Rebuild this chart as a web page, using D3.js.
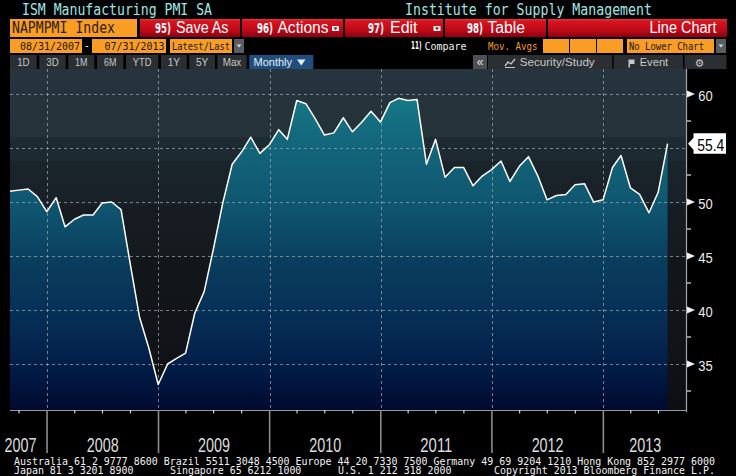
<!DOCTYPE html>
<html><head><meta charset="utf-8">
<script src="https://cdn.jsdelivr.net/npm/d3@7"></script>
<style>html,body{margin:0;padding:0;background:#000;overflow:hidden}svg{display:block}</style>
</head><body>
<svg id="c" width="736" height="476"></svg>
<script>
// ---------------- DATA ----------------
const months = [
 "2007-08","2007-09","2007-10","2007-11","2007-12",
 "2008-01","2008-02","2008-03","2008-04","2008-05","2008-06","2008-07","2008-08","2008-09","2008-10","2008-11","2008-12",
 "2009-01","2009-02","2009-03","2009-04","2009-05","2009-06","2009-07","2009-08","2009-09","2009-10","2009-11","2009-12",
 "2010-01","2010-02","2010-03","2010-04","2010-05","2010-06","2010-07","2010-08","2010-09","2010-10","2010-11","2010-12",
 "2011-01","2011-02","2011-03","2011-04","2011-05","2011-06","2011-07","2011-08","2011-09","2011-10","2011-11","2011-12",
 "2012-01","2012-02","2012-03","2012-04","2012-05","2012-06","2012-07","2012-08","2012-09","2012-10","2012-11","2012-12",
 "2013-01","2013-02","2013-03","2013-04","2013-05","2013-06","2013-07"];
const pmi = [
 51.0,51.1,51.2,50.5,49.1,
 50.4,47.7,48.4,48.8,48.8,49.9,50.0,49.3,44.3,39.3,36.5,33.1,
 35.0,35.5,36.0,39.7,41.7,45.6,49.9,53.5,54.6,56.0,54.5,55.3,
 56.7,55.8,59.4,59.1,57.7,56.2,56.4,57.8,56.5,57.4,58.4,57.4,
 59.2,59.6,59.4,59.5,53.5,55.8,52.3,53.2,53.2,51.5,52.4,53.0,
 53.8,51.9,53.3,54.2,52.4,50.2,50.6,50.7,51.6,51.7,50.0,50.2,
 53.2,54.3,51.3,50.7,49.0,50.9,55.4];
const yTicks = [35,40,45,50,55,60];
const yMinorTicks = [32.5,37.5,42.5,47.5,52.5,57.5];
const yearLabels = ["2007","2008","2009","2010","2011","2012","2013"];
const title = "ISM Manufacturing PMI SA";
const source = "Institute for Supply Management";
const ticker = "NAPMPMI Index";
const startDate = "08/31/2007", endDate = "07/31/2013";
const rangeButtons = ["1D","3D","1M","6M","YTD","1Y","5Y","Max"];
const footer1 = "Australia 61 2 9777 8600 Brazil 5511 3048 4500 Europe 44 20 7330 7500 Germany 49 69 9204 1210 Hong Kong 852 2977 6000";
const footer2 = ["Japan 81 3 3201 8900","Singapore 65 6212 1000","U.S. 1 212 318 2000","Copyright 2013 Bloomberg Finance L.P."];

// ---------------- SETUP ----------------
const svg = d3.select("#c");
const defs = svg.append("defs");
const SANS = "'Liberation Sans', Arial, sans-serif";
const MONO = "'DejaVu Sans Mono', monospace";
const COND = "'DejaVu Sans Condensed', 'DejaVu Sans', sans-serif";

function txt(g, x, y, s, o = {}) {
  const t = g.append("text").attr("x", x).attr("y", y).text(s)
    .attr("font-family", o.font || SANS)
    .attr("font-size", o.size || 12)
    .attr("fill", o.fill || "#fff")
    .attr("text-anchor", o.anchor || "start");
  if (o.len) t.attr("textLength", o.len).attr("lengthAdjust", "spacingAndGlyphs");
  if (o.weight) t.attr("font-weight", o.weight);
  return t;
}
function rect(g, x, y, w, h, fill) {
  return g.append("rect").attr("x", x).attr("y", y).attr("width", w).attr("height", h).attr("fill", fill);
}
function vgrad(id, y1, y2, stops) {
  const lg = defs.append("linearGradient").attr("id", id)
    .attr("gradientUnits", "userSpaceOnUse").attr("x1", 0).attr("x2", 0).attr("y1", y1).attr("y2", y2);
  stops.forEach(s => lg.append("stop").attr("offset", s[0]).attr("stop-color", s[1]));
}

const P = { l: 10, r: 687, t: 69, b: 410 };
const parseM = d3.timeParse("%Y-%m");
const dates = months.map(m => d3.timeDay.offset(d3.timeMonth.offset(parseM(m), 1), -1));
const data = dates.map((d, i) => ({ date: d, v: pmi[i] }));

const x = d3.scaleTime().domain([dates[0], dates[dates.length - 1]]).range([9.6, 667.6]);
const y = d3.scaleLinear().domain([35, 60]).range([364, 94]);

// gradients
vgrad("bg", P.t, P.b, [
  [0, "#26353d"], [0.2, "#24323a"], [0.2, "#1f2b33"], [0.27, "#1d2930"], [0.27, "#1a242b"],
  [0.4, "#182028"], [0.4, "#161c22"], [0.55, "#141a1d"], [0.55, "#131719"], [0.7, "#121419"],
  [0.82, "#111318"], [0.92, "#0e1015"], [1, "#0c0e12"]]);
vgrad("area", P.t, P.b, [
  [0, "#197f90"], [0.1, "#157686"], [0.2, "#13687c"], [0.4, "#0f5670"], [0.52, "#0b4563"],
  [0.55, "#0a3f5e"], [0.7, "#073158"], [0.8, "#05264f"], [0.88, "#021c46"], [0.94, "#01123b"], [1, "#000a30"]]);
vgrad("red", 19, 37, [[0, "#e8383c"], [0.12, "#d8141f"], [0.6, "#bf0a18"], [1, "#8c0010"]]);

defs.append("clipPath").attr("id", "plotclip").append("rect")
  .attr("x", P.l).attr("y", P.t).attr("width", P.r - P.l).attr("height", P.b - P.t);
defs.append("clipPath").attr("id", "yearclip").append("rect")
  .attr("x", 3.5).attr("y", P.b).attr("width", P.r - 3.5).attr("height", 60);

rect(svg, 0, 0, 736, 476, "#000");

// ---------------- HEADER ----------------
const H = svg.append("g");
txt(H, 22, 15, title, { font: MONO, size: 15, fill: "#9ee6e3", len: 190 });
txt(H, 405, 15, source, { font: MONO, size: 15, fill: "#9ee6e3", len: 247 });

// row 2
rect(H, 10, 19, 127, 18, "#f99d25");
txt(H, 12, 33.3, ticker, { font: MONO, size: 15, fill: "#2b1c06", len: 103 });
const redBtns = [
  { x: 140, w: 100, num: "95)", nx: 155, lab: "Save As", lx: 176, ll: 52.5, dd: false },
  { x: 242, w: 101, num: "96)", nx: 257, lab: "Actions", lx: 277.5, ll: 51, dd: true, ddx: 332 },
  { x: 345, w: 98, num: "97)", nx: 368, lab: "Edit", lx: 390, ll: 27.5, dd: true, ddx: 433.5 },
  { x: 445, w: 101, num: "98)", nx: 467, lab: "Table", lx: 487.5, ll: 37.5, dd: false }];
redBtns.forEach(b => {
  rect(H, b.x, 19, b.w, 18, "url(#red)");
  txt(H, b.nx, 33, b.num, { font: COND, size: 14, fill: "#fff", weight: "bold", len: 16 });
  txt(H, b.lx, 33.3, b.lab, { font: SANS, size: 16, fill: "#fff", len: b.ll });
  if (b.dd) {
    rect(H, b.ddx, 26, 7, 5, "#f2f2f2");
    H.append("path").attr("d", `M${b.ddx + 1.5},27.5h4l-2,2.5z`).attr("fill", "#7a0010");
  }
});
rect(H, 548, 19, 179, 18, "url(#red)");
txt(H, 716.5, 33.3, "Line Chart", { font: SANS, size: 16, fill: "#fff", anchor: "end", len: 67 });

// row 3
rect(H, 10, 39, 72, 14, "#f99d25");
txt(H, 20, 49.5, startDate, { font: MONO, size: 11, fill: "#241704", len: 60 });
txt(H, 86.8, 48.5, "-", { font: SANS, size: 10, fill: "#fff", anchor: "middle" });
rect(H, 92, 39, 74, 14, "#f99d25");
txt(H, 104.5, 49.5, endDate, { font: MONO, size: 11, fill: "#241704", len: 60 });
rect(H, 170, 39, 62, 14, "#f99d25");
txt(H, 172, 49.5, "Latest/Last", { font: MONO, size: 11, fill: "#241704", len: 58 });
rect(H, 234, 39, 10, 14, "#5a5d60");
H.append("path").attr("d", "M236.5,44.5h5l-2.5,3z").attr("fill", "#d8d8d8");

txt(H, 411, 49.3, "11)", { font: COND, size: 10, fill: "#fff", weight: "bold", len: 10.5 });
txt(H, 424.5, 49.5, "Compare", { font: MONO, size: 11, fill: "#f0f0f0", len: 42 });
txt(H, 488, 49.5, "Mov. Avgs", { font: MONO, size: 11, fill: "#f59a23", len: 49.5 });
[543, 570, 597].forEach(bx => rect(H, bx, 39, 26, 14, "#f99d25"));
rect(H, 627, 39, 87, 14, "#f99d25");
txt(H, 629, 49.5, "No Lower Chart", { font: MONO, size: 11, fill: "#241704", len: 75 });
rect(H, 716, 39, 10, 14, "#5a5d60");
H.append("path").attr("d", "M718.5,44.5h5l-2.5,3z").attr("fill", "#d8d8d8");

// row 4
const rb = [[10, 26.7], [39.3, 26.4], [68.3, 26], [97, 26.3], [126, 32.3], [161, 25.7], [189.3, 25.7], [217.3, 29.4]];
rangeButtons.forEach((s, i) => {
  const [bx, bw] = rb[i];
  rect(H, bx, 55, bw, 14, "#2b2f33");
  txt(H, bx + bw / 2, 66, s, { font: SANS, size: 11.5, fill: "#c4c8cc", anchor: "middle", len: s.length * 6.2 });
});
rect(H, 249.3, 55, 64, 14, "#1f4f7e");
txt(H, 253.5, 66, "Monthly", { font: SANS, size: 11.5, fill: "#e8eef4", len: 38.5 });
H.append("path").attr("d", "M297,59.5h8.5l-4.25,6z").attr("fill", "#e8eef4");

rect(H, 473, 55, 14, 14, "#4c5054");
txt(H, 480, 66, "«", { font: SANS, size: 12, fill: "#e0e0e0", anchor: "middle" });
rect(H, 488, 55, 124.3, 14, "#2b2f33");
H.append("path").attr("d", "M505,66l3,-4l3,2l4,-5").attr("fill", "none").attr("stroke", "#c4c8cc").attr("stroke-width", 1.3);
H.append("path").attr("d", "M505,67.5h10").attr("stroke", "#c4c8cc").attr("stroke-width", 1);
txt(H, 519.7, 66, "Security/Study", { font: SANS, size: 11.5, fill: "#c4c8cc", len: 75 });
rect(H, 613.7, 55, 69.3, 14, "#2b2f33");
H.append("path").attr("d", "M628.5,59.5h6v4.5h-4.5v3.5h-1.5z").attr("fill", "#c4c8cc");
txt(H, 639.7, 66, "Event", { font: SANS, size: 11.5, fill: "#c4c8cc", len: 28.5 });
rect(H, 684.5, 55, 42, 14, "#2b2f33");
txt(H, 699.5, 66.5, "\u2699", { font: "'DejaVu Sans', sans-serif", size: 11, fill: "#c4c8cc", anchor: "middle" });

// ---------------- PLOT ----------------
rect(svg, P.l, P.t, P.r - P.l, P.b - P.t, "url(#bg)");
const plot = svg.append("g").attr("clip-path", "url(#plotclip)");

const area = d3.area().x(d => x(d.date)).y0(P.b).y1(d => y(d.v));
const line = d3.line().x(d => x(d.date)).y(d => y(d.v));
plot.append("path").datum(data).attr("d", area).attr("fill", "url(#area)");

// grid
const yearStarts = d3.timeYear.range(new Date(2008, 0, 1), new Date(2014, 0, 1));
plot.selectAll(".hg").data(yTicks).join("line")
  .attr("x1", P.l).attr("x2", P.r).attr("y1", d => Math.round(y(d)) + 0.5).attr("y2", d => Math.round(y(d)) + 0.5)
  .attr("stroke", "#9aa4aa").attr("stroke-opacity", 0.75).attr("stroke-dasharray", "3,3");
plot.selectAll(".vg").data(yearStarts.filter(d => x(d) < P.r)).join("line")
  .attr("x1", d => Math.round(x(d)) + 0.5).attr("x2", d => Math.round(x(d)) + 0.5).attr("y1", P.t).attr("y2", P.b)
  .attr("stroke", "#9aa4aa").attr("stroke-opacity", 0.75).attr("stroke-dasharray", "3,3");

plot.append("path").datum(data).attr("d", line).attr("fill", "none")
  .attr("stroke", "#ffffff").attr("stroke-width", 1.5).attr("stroke-linejoin", "round");

// ---------------- AXES ----------------
const ax = svg.append("g");
ax.append("line").attr("x1", P.r - 0.5).attr("x2", P.r - 0.5).attr("y1", P.t).attr("y2", P.b + 2)
  .attr("stroke", "#a6a6a6").attr("stroke-width", 1.2);
ax.append("line").attr("x1", P.l).attr("x2", P.r).attr("y1", P.b + 0.5).attr("y2", P.b + 0.5)
  .attr("stroke", "#9a9a9a").attr("stroke-width", 1.2);

const lastV = pmi[pmi.length - 1];
const lastY = y(lastV);
const shownTicks = yTicks.filter(t => Math.abs(y(t) - lastY) > 10);
ax.selectAll(".tri").data(shownTicks).join("path")
  .attr("d", d => `M687,${y(d) - 3.5}L695,${y(d)}L687,${y(d) + 3.5}Z`).attr("fill", "#f0f0f0");
shownTicks.forEach(t => txt(ax, 698.3, y(t) + 6.6, String(t), { font: SANS, size: 15, fill: "#ececec", len: 14.4 }));
ax.selectAll(".mt").data(yMinorTicks).join("line")
  .attr("x1", 687).attr("x2", 691).attr("y1", d => y(d)).attr("y2", d => y(d))
  .attr("stroke", "#e0e0e0").attr("stroke-width", 1.2);

// last value label
ax.append("path")
  .attr("d", `M688,${lastY}L693.5,${lastY - 6}V${lastY - 10.5}H726V${lastY + 10}H693.5V${lastY + 6}Z`)
  .attr("fill", "#ffffff");
txt(ax, 697.3, lastY + 7.5, d3.format(".1f")(lastV), { font: SANS, size: 16, fill: "#000", len: 27 });

// x axis: quarter ticks, year separators, labels
const quarters = d3.timeMonth.every(3).range(new Date(2007, 8, 1), new Date(2013, 9, 1))
  .filter(d => d.getMonth() !== 0 && x(d) > P.l && x(d) < P.r);
ax.selectAll(".qt").data(quarters).join("line")
  .attr("x1", d => x(d)).attr("x2", d => x(d)).attr("y1", P.b).attr("y2", P.b + 3.5)
  .attr("stroke", "#d0d0d0").attr("stroke-width", 1.2);
ax.selectAll(".ys").data(yearStarts.filter(d => x(d) < P.r)).join("line")
  .attr("x1", d => x(d)).attr("x2", d => x(d)).attr("y1", P.b).attr("y2", 453)
  .attr("stroke", "#8c8c8c").attr("stroke-width", 1.6);

const yl = svg.append("g").attr("clip-path", "url(#yearclip)");
yearLabels.forEach((s, i) => {
  const yr = +s;
  const a = Math.max(P.l, x(new Date(yr, 0, 1))), b = Math.min(P.r, x(new Date(yr + 1, 0, 1)));
  let cx = (a + b) / 2;
  if (b - a < 45) cx = b - 26.5;
  txt(yl, cx, 452, s, { font: SANS, size: 19.5, fill: "#dcdcdc", anchor: "middle", len: 32 });
});

// ---------------- FOOTER ----------------
const F = svg.append("g");
txt(F, 14, 464.8, footer1, { font: MONO, size: 10, fill: "#f2f2f2", len: 701 });
const f2x = [14, 170, 338, 494];
footer2.forEach((s, i) => txt(F, f2x[i], 473.6, s, { font: MONO, size: 10, fill: "#f2f2f2", len: s.length * 5.97 }));
</script>
</body></html>
